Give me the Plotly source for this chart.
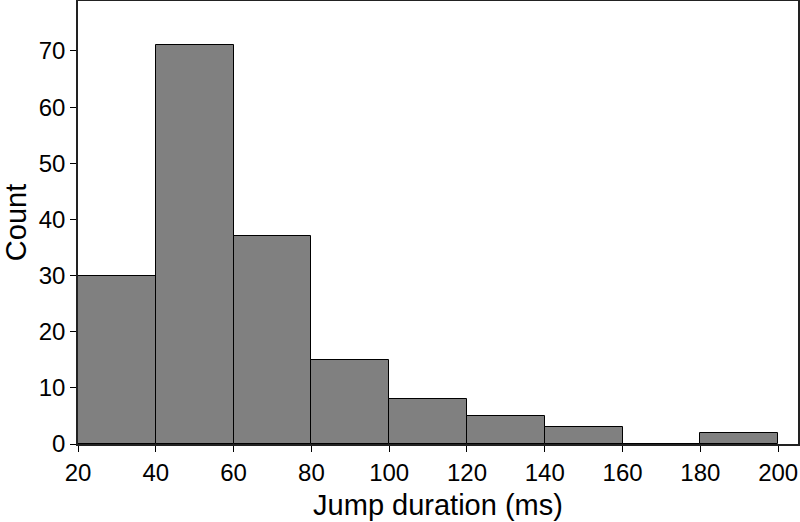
import plotly.graph_objects as go

bin_start = [20, 40, 60, 80, 100, 120, 140, 160, 180]
bin_width = 20
counts = [30, 71, 37, 15, 8, 5, 3, 0, 2]
x_ticks = [20, 40, 60, 80, 100, 120, 140, 160, 180, 200]
y_ticks = [0, 10, 20, 30, 40, 50, 60, 70]

fig = go.Figure(go.Bar(
    x=bin_start,
    y=counts,
    width=bin_width,
    offset=0,
    marker=dict(color="#808080", line=dict(color="black", width=1)),
))

fig.update_layout(
    width=800, height=522,
    margin=dict(l=78, r=2, t=1, b=78),
    paper_bgcolor="white",
    plot_bgcolor="white",
    font=dict(family="Liberation Sans, Arial", size=24, color="black"),
    showlegend=False,
    bargap=0,
)
fig.update_xaxes(
    range=[20, 205.1],
    tickvals=x_ticks,
    ticks="outside", ticklen=6, tickcolor="black",
    showline=True, linecolor="#222", linewidth=1.5, mirror=True,
    showgrid=False, zeroline=False, automargin=False,
    title=dict(text="Jump duration (ms)", font=dict(size=29), standoff=10),
)
fig.update_yaxes(
    range=[0, 78.9],
    tickvals=y_ticks,
    ticks="outside", ticklen=6, tickcolor="black",
    showline=True, linecolor="#222", linewidth=1.5, mirror=True,
    showgrid=False, zeroline=False, automargin=False,
    title=dict(text="Count", font=dict(size=29), standoff=8),
)

# drop the browser's default body margin so the figure sits at the page corner
fig.write_html("out.html", config={"displayModeBar": False},
               post_script="document.body.style.margin='0';")
